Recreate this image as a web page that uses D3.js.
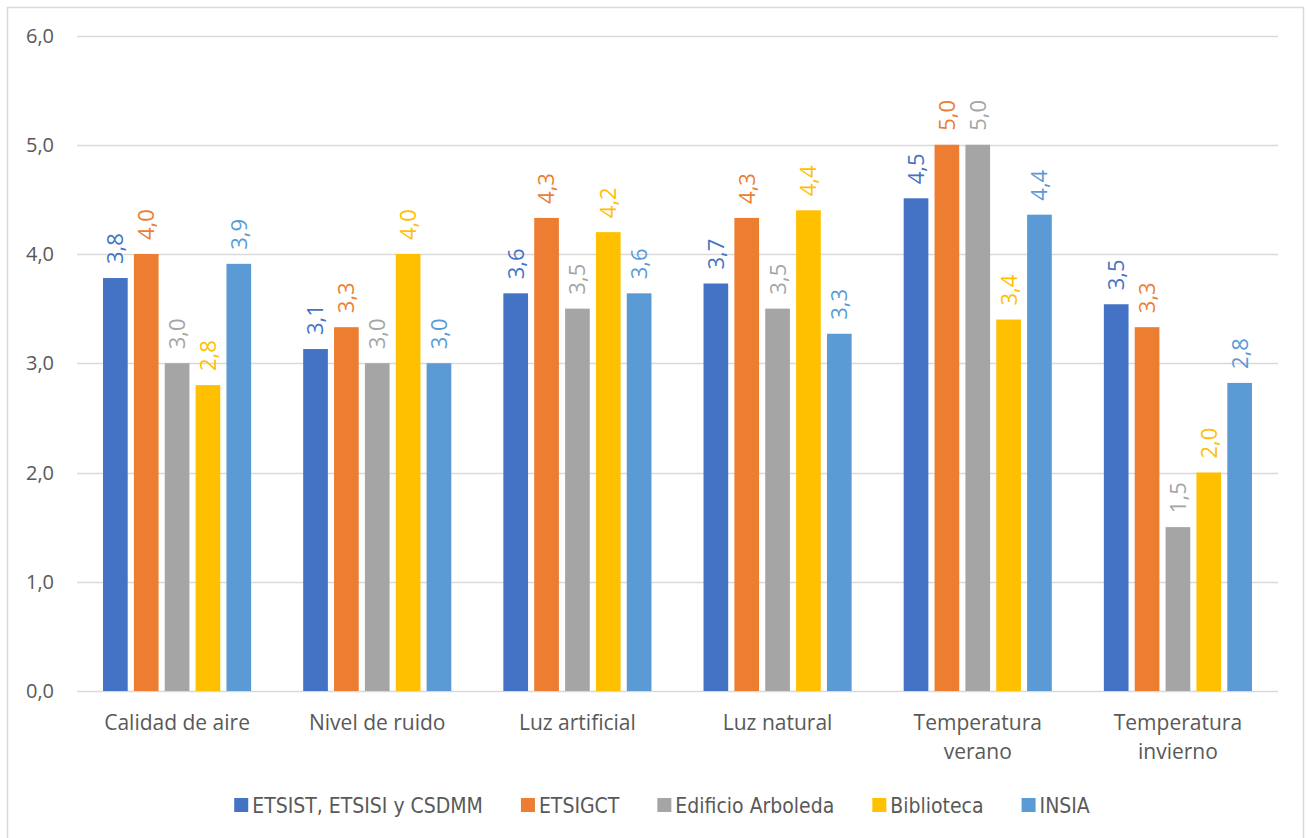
<!DOCTYPE html>
<html>
<head>
<meta charset="utf-8">
<script src="https://cdn.jsdelivr.net/npm/d3@7"></script>
<style>
  body { margin: 0; background: #fff; }
  svg { display: block; }
</style>
</head>
<body>
<svg id="canvas" width="1308" height="838"></svg>
<script>
let categories = ["Calidad de aire", "Nivel de ruido", "Luz artificial", "Luz natural", "Temperatura verano", "Temperatura invierno"];
let seriesNames = ["ETSIST, ETSISI y CSDMM", "ETSIGCT", "Edificio Arboleda", "Biblioteca", "INSIA"];
let colors = ["#4472C4", "#ED7D31", "#A5A5A5", "#FFC000", "#5B9BD5"];

// one array per series, same order as categories
let etsist = [3.78, 3.13, 3.64, 3.73, 4.51, 3.54];
let etsigct = [4.0, 3.33, 4.33, 4.33, 5.0, 3.33];
let arboleda = [3.0, 3.0, 3.5, 3.5, 5.0, 1.5];
let biblioteca = [2.8, 4.0, 4.2, 4.4, 3.4, 2.0];
let insia = [3.91, 3.0, 3.64, 3.27, 4.36, 2.82];
let seriesValues = [etsist, etsigct, arboleda, biblioteca, insia];

let yTicks = [0, 1, 2, 3, 4, 5, 6];

let canvas = d3.select("#canvas");
let textColor = "#595959";
let labelFont = "'Open Sans', 'Noto Sans', sans-serif";
let legendFont = "'Liberation Sans Narrow', 'DejaVu Sans Condensed', sans-serif";

// chart border
canvas.append("rect")
  .attr("x", 7.5).attr("y", 7.5)
  .attr("width", 1296).attr("height", 840)
  .attr("fill", "white")
  .attr("stroke", "#D9D9D9")
  .attr("stroke-width", 1.5);

let plotLeft = 77, plotRight = 1278, plotTop = 35.5, plotBottom = 691;

let x0 = d3.scaleBand().domain(categories).range([plotLeft, plotRight])
  .paddingInner(0.26).paddingOuter(0.13);
let x1 = d3.scaleBand().domain(d3.range(seriesNames.length)).range([0, x0.bandwidth()])
  .paddingInner(0.2).paddingOuter(0);
let y = d3.scaleLinear().domain([0, 6]).range([plotBottom, plotTop]);

let fmt = (v) => d3.format(".1f")(v).replace(".", ",");

// gridlines
canvas.append("g")
  .selectAll("line")
  .data(yTicks)
  .enter()
  .append("line")
  .attr("x1", plotLeft).attr("x2", plotRight)
  .attr("y1", (d) => Math.round(y(d)) + 0.5)
  .attr("y2", (d) => Math.round(y(d)) + 0.5)
  .attr("stroke", "#D9D9D9")
  .attr("stroke-width", 1.5);

// y tick labels
canvas.append("g")
  .selectAll("text")
  .data(yTicks)
  .enter()
  .append("text")
  .attr("x", 54)
  .attr("y", (d) => y(d))
  .attr("dy", "0.35em")
  .attr("text-anchor", "end")
  .attr("font-family", labelFont)
  .attr("font-size", 20)
  .attr("fill", textColor)
  .text((d) => fmt(d));

// bars
let groups = canvas.append("g")
  .selectAll("g")
  .data(categories)
  .enter()
  .append("g")
  .attr("transform", (c) => "translate(" + x0(c) + ",0)");

groups.selectAll("rect")
  .data((c, ci) => seriesValues.map((vals, si) => ({ si: si, v: vals[ci] })))
  .enter()
  .append("rect")
  .attr("x", (d) => x1(d.si))
  .attr("width", x1.bandwidth())
  .attr("y", (d) => y(d.v))
  .attr("height", (d) => y(0) - y(d.v))
  .attr("fill", (d) => colors[d.si]);

// value labels, rotated
groups.selectAll("text")
  .data((c, ci) => seriesValues.map((vals, si) => ({ si: si, v: vals[ci] })))
  .enter()
  .append("text")
  .attr("transform", (d) => "translate(" + (x1(d.si) + x1.bandwidth() / 2) + "," + (y(d.v) - 14) + ") rotate(-90)")
  .attr("dy", "0.36em")
  .attr("text-anchor", "start")
  .attr("font-family", labelFont)
  .attr("font-size", 22)
  .attr("fill", (d) => colors[d.si])
  .text((d) => fmt(d.v));

// category labels, wrapped when wider than the band
let catG = canvas.append("g");
categories.forEach((c) => {
  let t = catG.append("text")
    .attr("x", x0(c) + x0.bandwidth() / 2)
    .attr("y", 730)
    .attr("text-anchor", "middle")
    .attr("font-family", labelFont)
    .attr("font-size", 21)
    .attr("fill", textColor)
    .text(c);
  if (t.node().getComputedTextLength() > x0.bandwidth() + 10) {
    let words = c.split(" ");
    t.text("");
    words.forEach((w, i) => {
      t.append("tspan")
        .attr("x", x0(c) + x0.bandwidth() / 2)
        .attr("dy", i == 0 ? 0 : 29)
        .text(w);
    });
  }
});

// legend
let legend = canvas.append("g");
let items = legend.selectAll("g")
  .data(seriesNames)
  .enter()
  .append("g");
items.append("rect")
  .attr("width", 14).attr("height", 14)
  .attr("y", -7)
  .attr("fill", (d, i) => colors[i]);
items.append("text")
  .attr("x", 18)
  .attr("dy", "0.36em")
  .attr("font-family", legendFont)
  .attr("font-size", 21)
  .attr("fill", textColor)
  .text((d) => d);

let offsets = [];
let pos = 0;
items.each(function () {
  offsets.push(pos);
  pos += 18 + d3.select(this).select("text").node().getComputedTextLength() + 38;
});
let total = pos - 38;
let startX = 662 - total / 2;
items.attr("transform", (d, i) => "translate(" + (startX + offsets[i]) + ",805)");
</script>
</body>
</html>
